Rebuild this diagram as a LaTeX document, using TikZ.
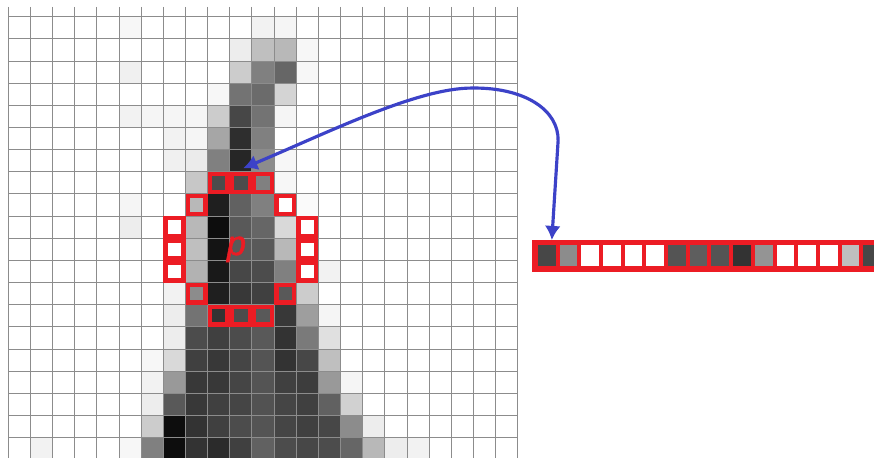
\documentclass[tikz,border=0pt]{standalone}
\usepackage{fontspec}
\newfontfamily\labelfont[FakeBold=1.5]{Liberation Sans}
\usetikzlibrary{arrows.meta}
\definecolor{ringred}{RGB}{236,28,36}
\definecolor{linkblue}{RGB}{60,66,200}

\begin{document}
\begin{tikzpicture}[
  x=0.443cm, y=-0.443cm,
  gridline/.style={draw=black!45, line width=0.55pt},
  ringcell/.style={draw=ringred, line width=2.5pt, minimum size=0.355cm,
                   inner sep=0pt, outer sep=0pt},
  vecbar/.style={fill=ringred, minimum width=7.1cm, minimum height=0.633cm,
                 inner sep=0pt, outer sep=0pt, anchor=north west},
  vecsq/.style={minimum width=0.354cm, minimum height=0.42cm,
                inner sep=0pt, outer sep=0pt},
  plabel/.style={text=ringred, font=\labelfont\itshape\fontsize{19.5}{22}\selectfont,
                 inner sep=0pt, anchor=base},
  link/.style={draw=linkblue, line width=1.8pt,
               {Latex[length=8pt,width=9pt]}-{Latex[length=8pt,width=9pt]}},
]
  % Frame
  \clip (-0.375,-0.754) rectangle (39.08,19.88);
  \fill[white] (-0.375,-0.754) rectangle (39.08,19.88);

  % Image pixels (col/row/darkness)
  \foreach \c/\r/\d in {
    5/0/3, 11/0/5, 12/0/4,
    10/1/7, 11/1/25, 12/1/28, 13/1/3,
    5/2/6, 10/2/20, 11/2/50, 12/2/60, 13/2/3,
    9/3/3, 10/3/55, 11/3/58, 12/3/17,
    5/4/5, 6/4/4, 7/4/4, 8/4/4, 9/4/20, 10/4/72, 11/4/55, 12/4/4,
    7/5/5, 8/5/4, 9/5/35, 10/5/82, 11/5/50,
    7/6/6, 8/6/8, 9/6/50, 10/6/85, 11/6/45, 12/6/3,
    8/7/22, 12/7/3,
    5/8/4, 9/8/88, 10/8/62, 11/8/50, 13/8/2,
    5/9/7, 8/9/28, 9/9/95, 10/9/65, 11/9/60, 12/9/15,
    8/10/25, 9/10/92, 10/10/65, 11/10/65, 12/10/28,
    8/11/30, 9/11/90, 10/11/72, 11/11/70, 12/11/50, 14/11/5,
    7/12/5, 9/12/88, 10/12/78, 11/12/75, 13/12/20,
    7/13/7, 8/13/55, 12/13/78, 13/13/38, 14/13/4,
    7/14/7, 8/14/70, 9/14/75, 10/14/70, 11/14/65, 12/14/80, 13/14/52, 14/14/12,
    6/15/3, 7/15/15, 8/15/75, 9/15/78, 10/15/73, 11/15/67, 12/15/80, 13/15/72, 14/15/25,
    6/16/5, 7/16/40, 8/16/78, 9/16/78, 10/16/73, 11/16/67, 12/16/75, 13/16/76, 14/16/40, 15/16/4,
    6/17/7, 7/17/65, 8/17/78, 9/17/75, 10/17/73, 11/17/68, 12/17/73, 13/17/75, 14/17/62, 15/17/18,
    6/18/20, 7/18/95, 8/18/80, 9/18/75, 10/18/70, 11/18/67, 12/18/73, 13/18/75, 14/18/72, 15/18/45, 16/18/7,
    1/19/5, 5/19/3, 6/19/50, 7/19/95, 8/19/80, 9/19/83, 10/19/75, 11/19/62, 12/19/70, 13/19/72, 14/19/70, 15/19/60, 16/19/28, 17/19/7, 18/19/5}
    \fill[black!\d] (\c,\r) rectangle ++(1,1);

  % Grid
  \foreach \c in {0,...,23}
    \draw[gridline] (\c,-0.44) -- (\c,19.9);
  \foreach \r in {0,...,19}
    \draw[gridline] (0,\r) -- (23,\r);

  % Ring of 16 pixels round p
  \foreach \c/\r/\d in {10/7/70, 11/7/50, 12/8/0, 13/9/0, 13/10/0, 13/11/0,
                        12/12/65, 11/13/65, 10/13/70, 9/13/80, 8/12/45,
                        7/11/0, 7/10/0, 7/9/0, 8/8/28, 9/7/70}
    \node[ringcell, fill=black!\d] (n\c-\r) at (\c+0.5,\r+0.5) {};
  \node[plabel] (p) at (10.3,10.76) {p};

  % Feature vector
  \node[vecbar] (vec) at (23.63,10.08) {};
  \foreach \d [count=\i] in {72,45,0,0,0,0,67,63,67,80,42,0,0,0,25,72}
    \node[vecsq, fill=black!\d] (v\i) at ({24.31+0.979*(\i-1)},10.78) {};
  \coordinate (vtop) at ([xshift=0.1cm]v1.north |- vec.north);

  % Arrow: ring <-> vector
  \draw[link] ([xshift=1.4pt,yshift=3.3pt]n10-7.north)
    .. controls (14.5,5.2) and (18.5,3.2) .. (20.98,3.22)
    .. controls (23.3,3.2) and (24.85,4.2) .. (24.82,5.6) -- (vtop);
\end{tikzpicture}
\end{document}
